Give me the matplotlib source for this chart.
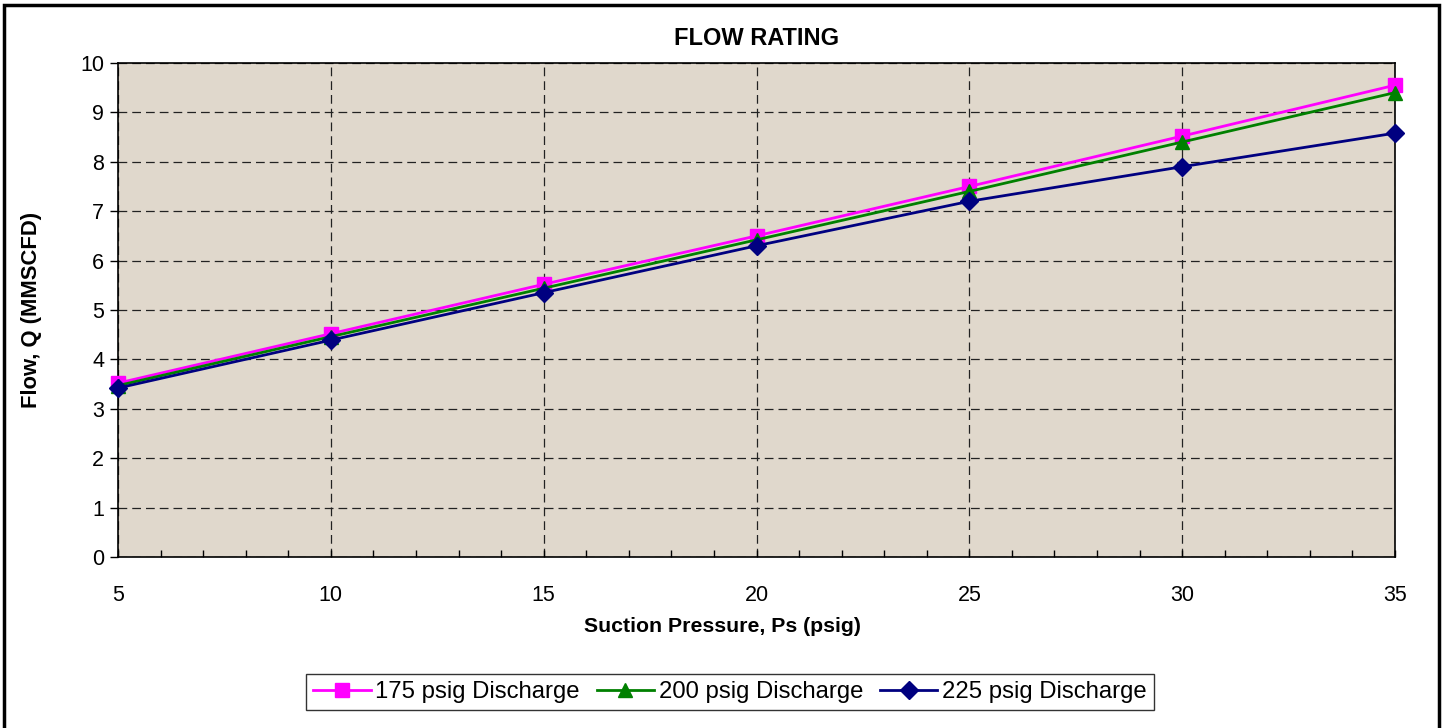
import matplotlib
matplotlib.use("Agg")
import matplotlib.pyplot as plt
from matplotlib.patches import Rectangle
from matplotlib.ticker import MultipleLocator

plt.rcParams['font.family'] = ['Liberation Sans', 'DejaVu Sans']

# data
suction_psig = [5, 10, 15, 20, 25, 30, 35]
flow_175 = [3.52, 4.52, 5.52, 6.5, 7.5, 8.52, 9.55]
flow_200 = [3.47, 4.46, 5.44, 6.42, 7.4, 8.4, 9.4]
flow_225 = [3.42, 4.39, 5.35, 6.3, 7.2, 7.9, 8.58]

series_labels = ['175 psig Discharge', '200 psig Discharge', '225 psig Discharge']
series_colors = ['#FF00FF', '#008000', '#000080']
series_markers = ['s', '^', 'D']

fig = plt.figure(figsize=(14.44, 7.28), dpi=100)
ax = fig.add_axes([0.0817, 0.2349, 0.8844, 0.6786])
ax.set_facecolor('#E0D8CC')

for vals, lab, col, mk in zip([flow_175, flow_200, flow_225], series_labels,
                              series_colors, series_markers):
    ms = 9.5 if mk != 'D' else 9
    ax.plot(suction_psig, vals, color=col, marker=mk, markersize=ms,
            linewidth=2.0, label=lab, clip_on=False, zorder=3)

ax.set_xlim(5, 35)
ax.set_ylim(0, 10)
ax.xaxis.set_major_locator(MultipleLocator(5))
ax.xaxis.set_minor_locator(MultipleLocator(1))
ax.yaxis.set_major_locator(MultipleLocator(1))
ax.tick_params(axis='x', which='both', direction='in', length=5, width=1,
               labelsize=15.5, pad=20)
ax.tick_params(axis='y', which='major', direction='out', length=6, width=1,
               labelsize=15.5, pad=4)
ax.grid(True, which='major', color='#222222', linestyle=(0, (7, 4)), linewidth=0.9)
ax.set_axisbelow(True)
for sp in ax.spines.values():
    sp.set_linewidth(1.2)

ax.set_title('FLOW RATING', fontsize=17, fontweight='bold', pad=13)
fig.text(0.5, 0.139, 'Suction Pressure, Ps (psig)', fontsize=15.3,
         fontweight='bold', ha='center', va='center')
fig.text(0.022, 0.5745, 'Flow, Q (MMSCFD)', fontsize=15.8, fontweight='bold',
         ha='center', va='center', rotation=90)

leg = fig.legend(loc='center', bbox_to_anchor=(0.5055, 0.049), ncol=3,
                 fontsize=17.2, frameon=True, fancybox=False, handlelength=2.4,
                 handletextpad=0.2, columnspacing=0.7, borderpad=0.3,
                 borderaxespad=0)
leg.get_frame().set_edgecolor('black')
leg.get_frame().set_linewidth(1)

# outer chart border
fig.add_artist(Rectangle((0.0028, -0.05), 0.9937, 1.0438, transform=fig.transFigure,
                         fill=False, edgecolor='black', linewidth=2.5))

fig.savefig('out.png', dpi=100)
